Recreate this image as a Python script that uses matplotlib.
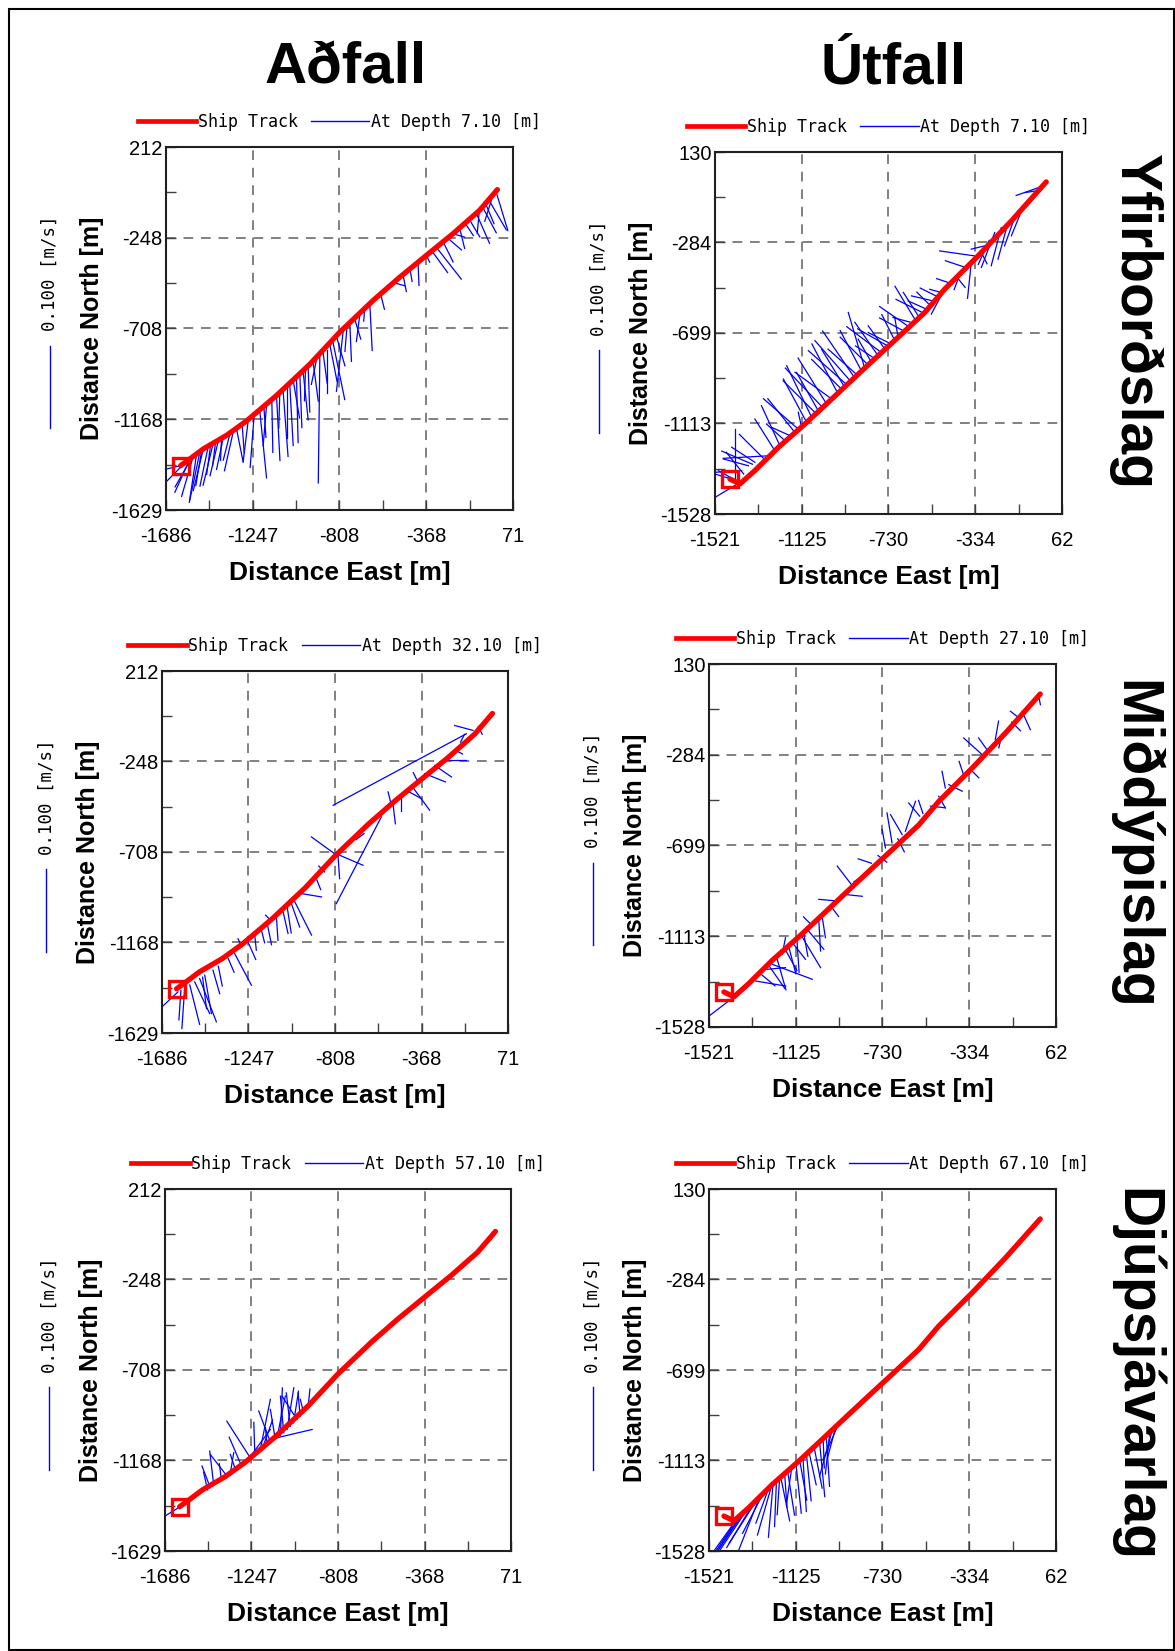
import matplotlib.pyplot as plt
from matplotlib.lines import Line2D
from matplotlib.patches import Rectangle

plt.rcParams['font.family'] = ['Liberation Sans', 'DejaVu Sans']
plt.rcParams['axes.unicode_minus'] = False

# ship track [m east, m north], flood (Aðfall) and ebb (Útfall) transects
adf_track_e = [-1612, -1565, -1497, -1379, -1278, -1126, -958, -806, -637, -502, -368, -233, -98, -8]
adf_track_n = [-1404, -1370, -1319, -1250, -1177, -1048, -890, -727, -566, -448, -338, -228, -109, -4]
utf_track_e = [-1453, -1407, -1339, -1232, -1111, -1005, -883, -777, -686, -564, -473, -321, -169, -10]
utf_track_n = [-1368, -1390, -1329, -1223, -1116, -1017, -902, -803, -719, -605, -498, -346, -186, -7]

# current sticks: (origin east, origin north, vector east, vector north) in plot metres
tl_sticks = [
    (-1612, -1404, -71, -17), (-1581, -1381, -101, -102), (-1565, -1370, -76, -169),
    (-1548, -1357, -59, -203), (-1531, -1345, -37, -245), (-1514, -1332, -51, -245),
    (-1497, -1319, -51, -212), (-1472, -1305, -42, -203), (-1447, -1291, -51, -212),
    (-1421, -1277, -42, -178), (-1396, -1262, -34, -161), (-1362, -1241, -34, -135),
    (-1329, -1218, 34, -169), (-1270, -1178, -25, -203), (-1211, -1128, 34, -338),
    (-1177, -1100, -17, -203), (-1126, -1057, 17, -321), (-1093, -1027, 25, -330),
    (-1059, -997, 17, -305), (-1025, -966, 8, -321), (-991, -935, 25, -237),
    (-966, -912, 8, -220), (-907, -852, -8, -640), (-873, -818, 0, -220),
    (-840, -781, 59, -288), (-789, -722, -34, -305), (-755, -689, 8, -186),
    (-705, -640, -17, -135), (-654, -583, 12, -237), (-536, -475, 59, -17),
    (-486, -436, 17, -85), (-410, -372, 5, -118), (-368, -338, 17, -34),
    (-317, -297, 126, -161), (-283, -269, 51, -102), (-233, -228, 59, -17),
    (-199, -200, 25, -102), (-148, -159, 51, -85), (-115, -124, 67, -152),
    (-81, -96, 67, -127), (-47, -64, 84, -144), (-14, -17, 59, -195), (-30, -30, -42, -135),
    (-1555, -1362, -85, -150), (-1505, -1325, -30, -180), (-1460, -1298, -20, -150),
    (-1435, -1284, -15, -120), (-1405, -1268, -5, -110), (-1345, -1230, -45, -200),
    (-1300, -1200, 10, -140), (-1240, -1153, -20, -260), (-1190, -1111, 10, -150),
    (-1150, -1077, 5, -260), (-1110, -1043, -5, -170), (-1075, -1012, 0, -250),
    (-1040, -982, 30, -180), (-1008, -951, 10, -260), (-980, -925, -5, -150),
    (-940, -887, 25, -190), (-925, -872, -25, -120), (-890, -836, 20, -150),
    (-855, -797, 35, -180), (-820, -758, 40, -140), (-770, -705, -10, -120),
    (-730, -662, 30, -100), (-680, -611, -5, -60), (-600, -531, 20, -80),
    (-450, -410, 10, -60), (-340, -315, 80, -110), (-260, -250, 70, -60),
    (-170, -177, 40, -60), (-100, -115, -10, -110), (-65, -82, 40, -95),
]
tr_sticks = [
    (-1445, -1368, -76, 23), (-1407, -1383, -114, -69), (-1399, -1329, -122, -8),
    (-1430, -1375, 0, 236), (-1369, -1307, -114, 31), (-1339, -1291, -106, 69),
    (-1270, -1261, -213, -12), (-1248, -1238, -91, 145), (-1225, -1215, -84, 183),
    (-1202, -1192, -84, 76), (-1179, -1169, -84, 38), (-1126, -1131, -15, 69),
    (-1103, -1108, -106, 198), (-1080, -1085, -114, 236), (-1050, -1055, -99, 175),
    (-1012, -1024, -130, 210), (-989, -1001, -167, 122), (-959, -979, -120, 230),
    (-929, -948, -106, 175), (-898, -925, -167, 191), (-868, -895, -137, 122),
    (-837, -864, -76, 259), (-807, -834, -61, 107), (-777, -803, -106, 153),
    (-746, -773, -76, 107), (-716, -750, -106, 53), (-686, -719, -15, 92),
    (-625, -651, -84, 23), (-594, -620, -68, 107), (-556, -590, -84, 38),
    (-526, -552, -99, 23), (-488, -514, -53, 15), (-473, -498, -61, -114),
    (-336, -346, -160, 23), (-351, -369, -18, -171), (-291, -300, -61, -15),
    (-245, -239, -61, -160), (-215, -216, -46, -175), (-184, -193, -46, -168),
    (-154, -170, -46, -130), (-123, -140, -46, -114), (-25, -26, -122, -43), (-55, -48, -53, -8),
    (-1290, -1283, -120, 120), (-1160, -1150, -120, 150), (-1140, -1140, -160, 140),
    (-1060, -1068, -150, 150), (-1030, -1040, -170, 180), (-940, -960, -140, 140),
    (-915, -940, -180, 160), (-880, -910, -150, 220), (-850, -878, -100, 190),
    (-820, -848, -130, 130), (-790, -818, -90, 60), (-760, -790, -160, 120),
    (-730, -760, -140, 80), (-700, -735, -60, 120), (-660, -690, -110, 60),
    (-640, -668, -130, 90), (-610, -635, -90, 150), (-575, -605, -120, 60),
    (-540, -572, -60, 60), (-505, -533, -80, 40), (-450, -470, -60, 20),
    (-420, -440, 40, -50), (-400, -420, -30, -80), (-380, -398, -90, 30),
    (-310, -322, 30, -60), (-270, -275, -50, -110), (-100, -112, -40, -30),
    (-1415, -1380, -90, 50), (-1390, -1345, -80, 100), (-1350, -1300, -140, 60),
]
ml_sticks = [
    (-1605, -1420, -81, -76), (-1571, -1403, -14, -203), (-1520, -1369, 76, -161),
    (-1495, -1352, 85, -220), (-1469, -1335, 34, -195), (-1427, -1310, 34, -119),
    (-1317, -1225, 85, -161), (-1215, -1132, 8, -76), (-1105, -1039, 8, -119),
    (-1071, -1013, 25, -110), (-1012, -961, 85, -170), (-1029, -971, 42, -119),
    (-978, -920, 102, -17), (-792, -730, -135, 98), (-792, -730, 8, -114),
    (-784, -725, 119, -51), (-572, -530, -229, -441), (-513, -463, 12, -102),
    (-521, -471, -17, 68), (-420, -369, 93, -127), (-445, -395, 76, -42),
    (-352, -310, 105, -42), (-301, -268, 85, -59), (-250, -242, 110, 0),
    (-140, -107, -677, -364), (-107, -90, -93, 25),
    (-1590, -1412, -10, -150), (-1545, -1385, 50, -200), (-1480, -1345, 20, -160),
    (-1400, -1290, 20, -100), (-1350, -1250, 30, -70), (-1280, -1190, -20, 40),
    (-1250, -1165, 40, -90), (-1180, -1110, 15, -60), (-1150, -1080, 20, -100),
    (-1130, -1060, -30, 30), (-1050, -990, 20, -130), (-900, -850, 20, -50),
    (-860, -810, -30, 30), (-700, -645, 40, 30), (-470, -420, 0, -80),
    (-390, -345, -20, 40), (-200, -190, 40, -20), (-170, -150, 20, 40), (-80, -70, 20, -40),
]
mr_sticks = [
    (-1422, -1402, -99, -76), (-1308, -1318, 137, -23), (-1263, -1265, 91, 8),
    (-1232, -1242, 182, -68), (-1187, -1196, 15, 76), (-1156, -1166, 30, -114),
    (-1134, -1151, 53, -68), (-1103, -1105, 91, -152), (-1073, -1082, 76, -91),
    (-1020, -1044, 8, -137), (-1005, -1021, 15, -99), (-929, -953, -91, 8),
    (-898, -923, 76, -8), (-860, -892, -76, 99), (-716, -710, -15, 84),
    (-686, -687, -23, 137), (-640, -649, -53, 91), (-625, -634, 46, 137),
    (-511, -519, 68, -8), (-473, -474, 30, -53), (-443, -436, -15, 76),
    (-427, -421, 61, -30), (-275, -284, -84, 76), (-253, -261, -38, 53),
    (-215, -215, 15, 84), (-184, -192, -15, -61), (-116, -109, -30, 23),
    (-93, -86, 38, -84), (-17, -18, 8, -38),
    (-1280, -1290, 60, -50), (-1245, -1252, 70, -100), (-1210, -1218, 40, -140),
    (-1170, -1180, 50, -90), (-1120, -1128, 10, -150), (-1090, -1095, 20, -110),
    (-1050, -1065, -40, 40), (-960, -983, 30, -40), (-830, -845, -30, -20),
    (-780, -780, -60, 20), (-750, -745, 40, -30), (-660, -668, 30, -60),
    (-560, -565, -50, 60), (-545, -553, -20, 60), (-360, -375, -20, 60),
    (-330, -350, 40, -40), (-140, -135, 40, -40),
]
bl_sticks = [
    (-1617, -1409, -69, -42), (-1456, -1307, -42, 110), (-1439, -1290, -20, 169),
    (-1371, -1248, -85, 110), (-1354, -1231, 17, 102), (-1329, -1214, -25, 76),
    (-1253, -1155, -119, 186), (-1286, -1194, 135, 183), (-1202, -1112, 51, 254),
    (-1168, -1087, -8, 85), (-1126, -1061, -25, 152), (-1117, -1053, 42, 212),
    (-1083, -1028, -17, 186), (-1066, -1011, 34, 212), (-1033, -977, 25, 161),
    (-1016, -960, -76, 119), (-982, -926, -17, 68), (-1117, -1053, 178, 42),
    (-1470, -1318, -20, 90), (-1400, -1265, -10, 80), (-1300, -1190, -60, 140),
    (-1230, -1135, -5, 160), (-1190, -1103, 50, 140), (-1150, -1077, -60, 160),
    (-1100, -1040, 10, 240), (-1050, -995, -20, 170), (-1000, -944, -10, 120),
    (-960, -905, 10, 100),
]
br_sticks = [
    (-1369, -1347, -122, -183), (-1338, -1324, -137, -206), (-1292, -1286, -99, -252),
    (-1214, -1225, -8, -191), (-1191, -1203, 38, -187), (-1161, -1172, 30, -191),
    (-1123, -1141, 23, -214), (-1092, -1110, 15, -237), (-1062, -1087, 30, -138),
    (-1016, -1034, 23, -245), (-986, -1003, 15, -229), (-956, -965, -61, -222),
    (-925, -934, -76, -176), (-1254, -1255, -53, -145), (-1277, -1271, -91, -176),
    (-1307, -1301, -122, -191), (-1145, -1156, -23, -161),
    (-1400, -1390, -100, -140), (-1380, -1370, -110, -170), (-1350, -1335, -130, -190),
    (-1320, -1312, -120, -200), (-1240, -1245, -60, -210), (-1230, -1235, -20, -230),
    (-1200, -1212, -10, -150), (-1175, -1188, 10, -140), (-1105, -1125, 30, -170),
    (-1075, -1098, 20, -200), (-1040, -1060, 35, -180), (-1000, -1018, 5, -130),
    (-970, -985, -20, -190), (-940, -950, -40, -150),
]

adf_xticks = [-1686, -1247, -808, -368, 71]
adf_yticks = [-1629, -1168, -708, -248, 212]
utf_xticks = [-1521, -1125, -730, -334, 62]
utf_yticks = [-1528, -1113, -699, -284, 130]

col_titles = ['Aðfall', 'Útfall']
row_titles = ['Yfirborðslag', 'Miðdýpislag', 'Djúpsjávarlag']
depths = ['7.10', '7.10', '32.10', '27.10', '57.10', '67.10']

W, H = 1175, 1651
fig = plt.figure(figsize=(W / 100, H / 100), dpi=100)


def rect(left, top, w, h):
    return [left / W, 1 - (top + h) / H, w / W, h / H]


panels = [
    (rect(166, 147, 347, 363), 'adf', tl_sticks),
    (rect(715, 152, 347, 362), 'utf', tr_sticks),
    (rect(162, 671, 346, 362), 'adf', ml_sticks),
    (rect(709, 664, 347, 363), 'utf', mr_sticks),
    (rect(165, 1189, 346, 362), 'adf', bl_sticks),
    (rect(709, 1189, 347, 362), 'utf', br_sticks),
]

for (r, col, sticks), depth in zip(panels, depths):
    ax = fig.add_axes(r)
    if col == 'adf':
        te, tn, xt, yt = adf_track_e, adf_track_n, adf_xticks, adf_yticks
    else:
        te, tn, xt, yt = utf_track_e, utf_track_n, utf_xticks, utf_yticks

    for e0, n0, de, dn in sticks:
        ax.plot([e0, e0 + de], [n0, n0 + dn], color='#0000ff', lw=0.9, zorder=2)
    ax.plot(te, tn, color='#ff0000', lw=3.8, zorder=3, solid_capstyle='round',
            solid_joinstyle='round')
    ax.plot(te[0], tn[0], marker='s', ms=12, mfc='none', mec='#ff0000', mew=2.4, zorder=4)

    ax.set_xlim(xt[0], xt[-1])
    ax.set_ylim(yt[0], yt[-1])
    ax.set_xticks(xt)
    ax.set_yticks(yt)
    ax.set_xticks([(a + b) / 2 for a, b in zip(xt[:-1], xt[1:])], minor=True)
    ax.set_yticks([(a + b) / 2 for a, b in zip(yt[:-1], yt[1:])], minor=True)
    ax.grid(which='major', color='#808080', ls=(0, (5, 4)), lw=1.4)
    ax.tick_params(which='both', direction='in', length=7, width=1, color='#404040')
    ax.tick_params(axis='x', labelsize=14.5, pad=12)
    ax.tick_params(axis='y', labelsize=14.5, pad=2.5)
    for s in ax.spines.values():
        s.set_linewidth(1.5)
        s.set_color('#202020')

    ax.set_xlabel('Distance East [m]', fontsize=19, fontweight='bold', va='center')
    ax.set_ylabel('Distance North [m]', fontsize=18, fontweight='bold', va='center')
    ax.xaxis.set_label_coords(0.5, -63 / 363)
    ax.yaxis.set_label_coords(-74 / 347, 0.5)

    h_track = Line2D([], [], color='#ff0000', lw=3.4)
    h_stick = Line2D([], [], color='#0000ff', lw=1.0)
    ax.legend([h_track, h_stick], ['Ship Track', f'At Depth {depth} [m]'],
              loc='lower center', bbox_to_anchor=(0.5, 1.045), ncol=2, frameon=False,
              prop={'family': 'DejaVu Sans Mono', 'size': 12}, handlelength=3.5,
              handletextpad=0.1, columnspacing=0.8, borderpad=0, borderaxespad=0)

    # 0.100 m/s scale bar
    ax.plot([-116 / 347, -116 / 347], [0.453, 0.225], color='#0000ff', lw=1.0,
            transform=ax.transAxes, clip_on=False)
    ax.text(-116 / 347, 0.652, '0.100 [m/s]', rotation=90, ha='center', va='center',
            fontsize=12.5, family='DejaVu Sans Mono', transform=ax.transAxes)

fig.text(346 / W, 1 - 84 / H, col_titles[0], fontsize=42, fontweight='bold',
         ha='center', va='baseline')
fig.text(894 / W, 1 - 84 / H, col_titles[1], fontsize=42, fontweight='bold',
         ha='center', va='baseline')
for label, yc in zip(row_titles, [322, 845, 1375]):
    fig.text(1135 / W, 1 - yc / H, label, fontsize=41, fontweight='bold',
             rotation=-90, ha='center', va='center')

fig.add_artist(Rectangle((9 / W, 1 / H), 1 - 10 / W, 1 - 10 / H, transform=fig.transFigure,
                         fill=False, ec='black', lw=1.5))

fig.savefig('out.png', dpi=100)
